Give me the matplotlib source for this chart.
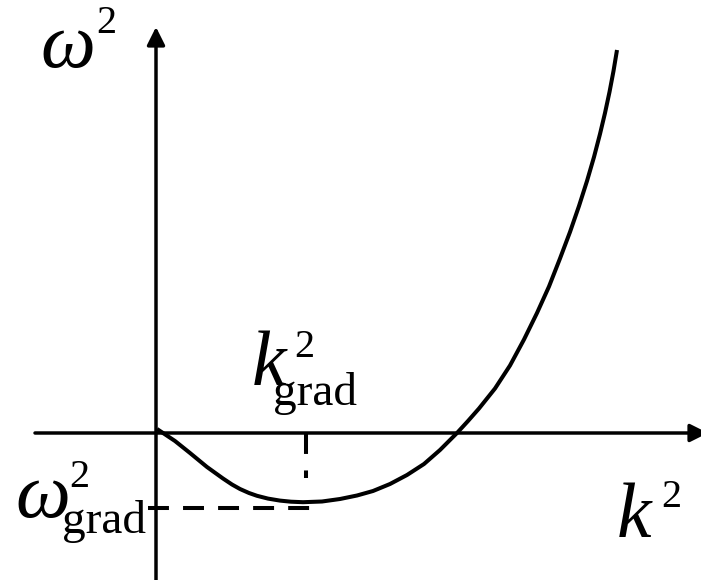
import numpy as np
from matplotlib import pyplot as plt

k2 = [0.01, 0.19, 0.34, 0.51, 0.67, 0.76, 0.84, 0.93, 1.01, 1.12, 1.24, 1.35, 1.47,
      1.66, 1.84, 2.01, 2.17, 2.34, 2.51, 2.68, 2.84, 3.01, 3.12, 3.23, 3.39,
      3.54, 3.68, 3.81, 3.93, 4.04, 4.14, 4.23, 4.31, 4.38, 4.44, 4.49, 4.535,
      4.575, 4.61]
w2 = [0.04, -0.08, -0.20, -0.34, -0.455, -0.515, -0.56, -0.60, -0.628, -0.656, -0.676, -0.687, -0.692,
      -0.685, -0.66, -0.625, -0.58, -0.51, -0.42, -0.31, -0.17, 0.00, 0.12, 0.245, 0.445,
      0.675, 0.935, 1.20, 1.465, 1.745, 2.01, 2.27, 2.52, 2.76, 2.99, 3.20, 3.41,
      3.62, 3.83]

k2_grad = 1.50
w2_grad = -0.75

main_size = 56
sup_size = 29
sub_size = 34
serif = "Liberation Serif"

fig = plt.figure(figsize=(7.01, 5.80), dpi=100)
ax = fig.add_axes([0, 0, 1, 1])
ax.set_xlim(-1.56, 5.45)
ax.set_ylim(-1.47, 4.33)
ax.axis("off")

# axes with arrow heads
arrow = dict(arrowstyle="-|>,head_length=0.4,head_width=0.2", lw=2.5, color="black",
             mutation_scale=27, shrinkA=0, shrinkB=0)
ax.annotate("", xy=(5.52, 0), xytext=(-1.21, 0), arrowprops=arrow, annotation_clip=False)
ax.annotate("", xy=(0, 4.06), xytext=(0, -1.50), arrowprops=arrow, annotation_clip=False)

# curve
ax.plot(k2, w2, color="black", lw=2.9, solid_capstyle="butt", solid_joinstyle="round")

# dashed guides to the minimum
ax.plot([k2_grad, k2_grad], [0, -0.45], color="black", lw=2.9, dashes=(5.2, 4.1),
        dash_capstyle="butt")
ax.plot([-0.08, 1.60], [w2_grad, w2_grad], color="black", lw=2.9, dashes=(5.2, 3.5),
        dash_capstyle="butt")


def px(x, y):
    return x / 701, 1 - y / 580


# omega^2 label on the vertical axis
fig.text(*px(40, 67), "ω", fontsize=main_size, family=serif, style="italic", va="baseline")
fig.text(*px(96, 33), "2", fontsize=sup_size, family=serif, va="baseline")

# k^2 label on the horizontal axis
fig.text(*px(617, 537), "k", fontsize=main_size, family=serif, style="italic", va="baseline")
fig.text(*px(661, 507), "2", fontsize=sup_size, family=serif, va="baseline")

# k^2_grad
fig.text(*px(252, 385), "k", fontsize=main_size, family=serif, style="italic", va="baseline")
fig.text(*px(294, 357), "2", fontsize=sup_size, family=serif, va="baseline")
fig.text(*px(273, 405), "grad", fontsize=sub_size, family=serif, va="baseline")

# omega^2_grad
fig.text(*px(15, 517), "ω", fontsize=main_size, family=serif, style="italic", va="baseline")
fig.text(*px(69, 487), "2", fontsize=sup_size, family=serif, va="baseline")
fig.text(*px(62, 533), "grad", fontsize=sub_size, family=serif, va="baseline")

fig.savefig("out.png", dpi=100)
